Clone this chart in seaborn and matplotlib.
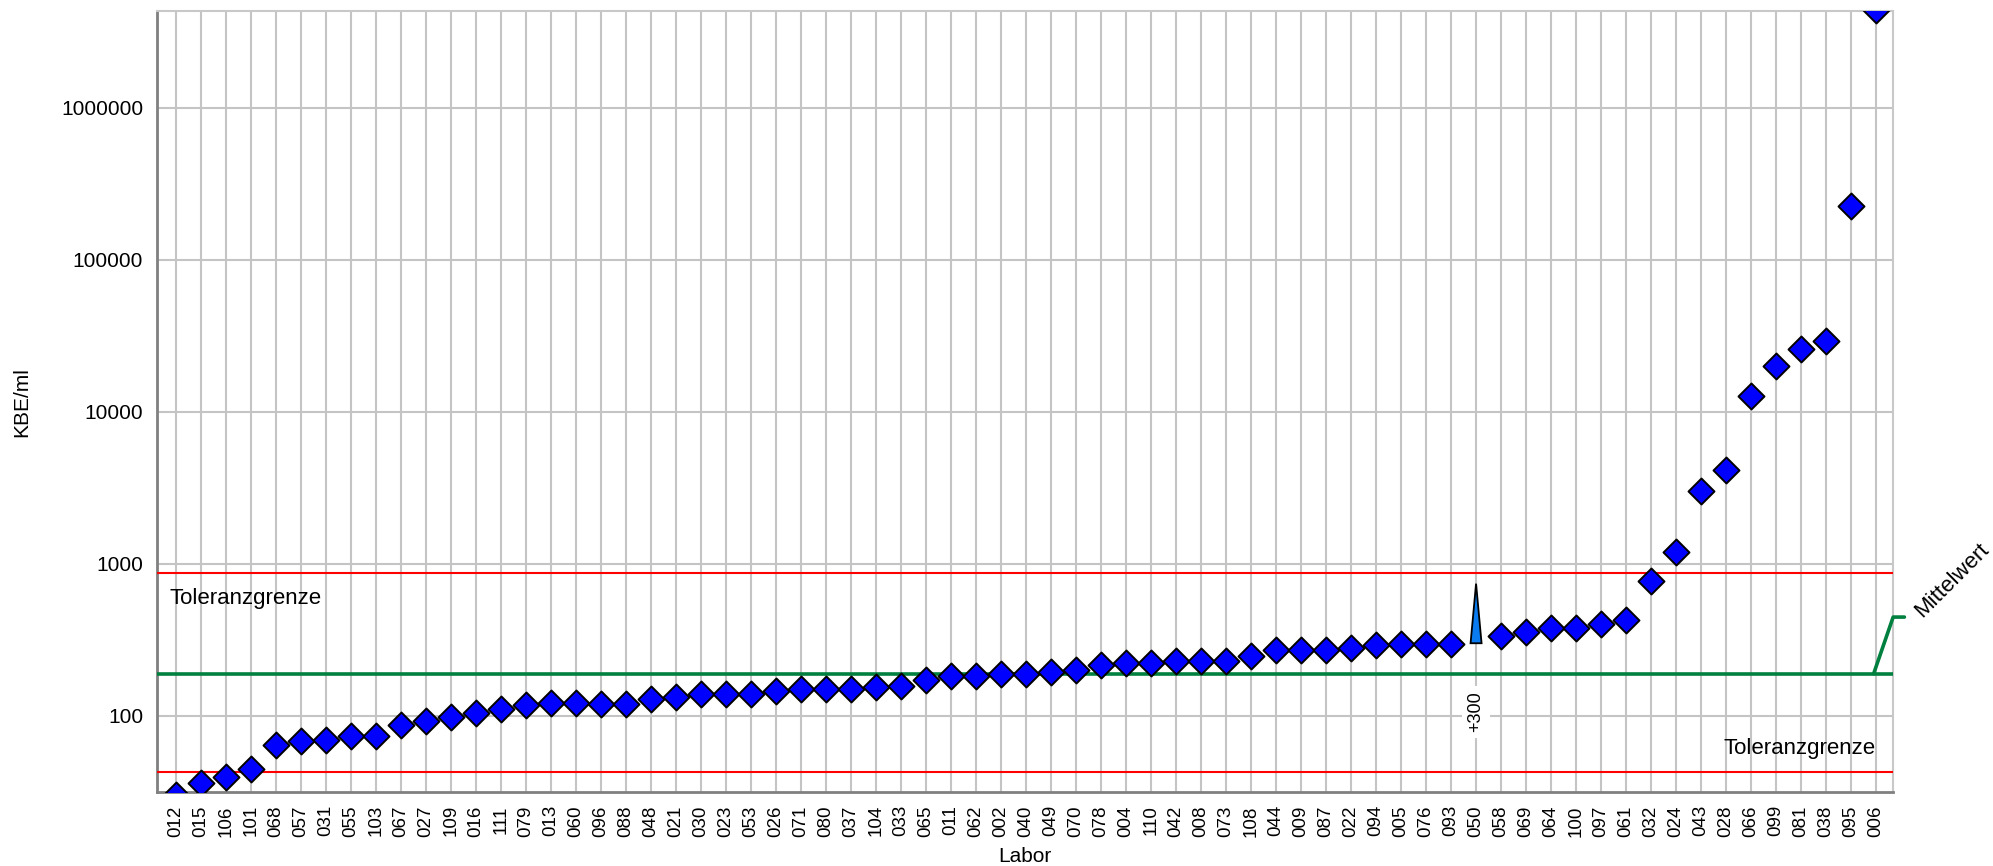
import numpy as np
import pandas as pd
import matplotlib
matplotlib.use("Agg")
import matplotlib.pyplot as plt
import seaborn as sns
from matplotlib.ticker import NullLocator

# lab codes in plot order
labs = ["012", "015", "106", "101", "068", "057", "031", "055", "103", "067",
        "027", "109", "016", "111", "079", "013", "060", "096", "088", "048",
        "021", "030", "023", "053", "026", "071", "080", "037", "104", "033",
        "065", "011", "062", "002", "040", "049", "070", "078", "004", "110",
        "042", "008", "073", "108", "044", "009", "087", "022", "094", "005",
        "076", "093", "050", "058", "069", "064", "100", "097", "061", "032",
        "024", "043", "028", "066", "099", "081", "038", "095", "006"]

# KBE/ml per lab (050 reported as "> 300", drawn separately)
kbe = [30, 36, 39.5, 44.5, 64, 68, 69.5, 74, 73.5, 87,
       92, 98.5, 105, 110, 117, 120.5, 120.5, 119, 119, 128.5,
       132, 140, 140, 140, 145, 149, 149, 149, 155, 158,
       173, 183, 183, 189, 189, 193, 201, 215, 222, 222,
       228, 228, 228, 248, 270, 272, 272, 279, 291, 298,
       298, 298, np.nan, 337, 358, 380, 378, 404, 428, 766,
       1200, 3000, 4150, 12750, 20000, 25800, 29200, 228000, 4400000]

gt_lab = "050"
gt_value = 300
gt_top = 740

mean_value = 189
tol_upper = 868
tol_lower = 42.8
mean_label_level = 446

yticks = [100, 1000, 10000, 100000, 1000000]

df = pd.DataFrame({"pos": np.arange(len(labs)), "labor": labs, "kbe": kbe})
pts = df.dropna()

sns.set_theme(style="white")
plt.rcParams["font.family"] = ["Liberation Sans", "DejaVu Sans"]
plt.rcParams["text.color"] = "black"
plt.rcParams["axes.labelcolor"] = "black"

fig = plt.figure(figsize=(19.93, 8.66), dpi=100)
ax = fig.add_axes([0.0788, 0.0855, 0.8711, 0.9013])

ax.set_yscale("log")
xl = (-0.75, len(labs) - 1 + 0.68)
ax.set_xlim(*xl)
ax.set_ylim(31.5, 4.32e6)

# reference lines
ax.axhline(tol_upper, color="#ff0000", lw=1.5, zorder=3)
ax.axhline(tol_lower, color="#ff0000", lw=1.5, zorder=3)
ax.axhline(mean_value, color="#00803f", lw=2.6, zorder=3)

# points
sns.scatterplot(data=pts, x="pos", y="kbe", marker="D", s=175, color="#0000ff",
                edgecolor="black", linewidth=1.4, ax=ax, zorder=6, legend=False)

# "greater than" marker for 050
gp = labs.index(gt_lab)
ax.fill([gp - 0.22, gp + 0.22, gp], [gt_value, gt_value, gt_top],
        facecolor="#0a7cf0", edgecolor="black", lw=1.3, zorder=6)
ax.text(gp, 106, "+" + str(gt_value), rotation=90, ha="center", va="center",
        fontsize=13, zorder=4,
        bbox=dict(facecolor="white", edgecolor="none", pad=4))

# text labels for tolerance lines
ax.annotate("Toleranzgrenze", xy=(0.007, tol_upper), xycoords=("axes fraction", "data"),
            xytext=(0, -22), textcoords="offset points", ha="left", va="baseline",
            fontsize=16, zorder=5)
ax.annotate("Toleranzgrenze", xy=(0.99, tol_lower), xycoords=("axes fraction", "data"),
            xytext=(0, 13), textcoords="offset points", ha="right", va="baseline",
            fontsize=16, zorder=5)

# leader for the mean label outside the plot
lead_x = [len(labs) - 1 - 0.1, xl[1], xl[1] + 0.45]
ax.plot(lead_x, [mean_value, mean_label_level, mean_label_level],
        color="#00803f", lw=2.6, clip_on=False, zorder=3)
ax.annotate("Mittelwert", xy=(lead_x[-1], mean_label_level), xycoords="data",
            xytext=(10, 2), textcoords="offset points", rotation=45,
            rotation_mode="anchor", ha="left", va="center", fontsize=16,
            annotation_clip=False)

# axes styling
ax.set_xticks(df["pos"])
ax.set_xticklabels(labs, rotation=90, fontsize=13.5)
ax.set_yticks(yticks)
ax.set_yticklabels([str(t) for t in yticks], fontsize=15)
ax.yaxis.set_minor_locator(NullLocator())
ax.tick_params(axis="both", direction="out", length=8, width=1.2,
               color="#808080", labelcolor="black", pad=2)
ax.tick_params(axis="x", pad=1.5)

ax.grid(True, which="major", color="#c4c4c4", lw=1.5)
ax.set_axisbelow(True)
for side in ["left", "bottom"]:
    ax.spines[side].set_color("#808080")
    ax.spines[side].set_linewidth(2)
for side in ["top", "right"]:
    ax.spines[side].set_color("#c8c8c8")
    ax.spines[side].set_linewidth(1.5)

ax.set_xlabel("Labor", fontsize=15)
ax.set_ylabel("KBE/ml", fontsize=15)
ax.xaxis.set_label_coords(0.5, -0.071)
ax.yaxis.set_label_coords(-0.0726, 0.5)

fig.savefig("out.png", dpi=100)
